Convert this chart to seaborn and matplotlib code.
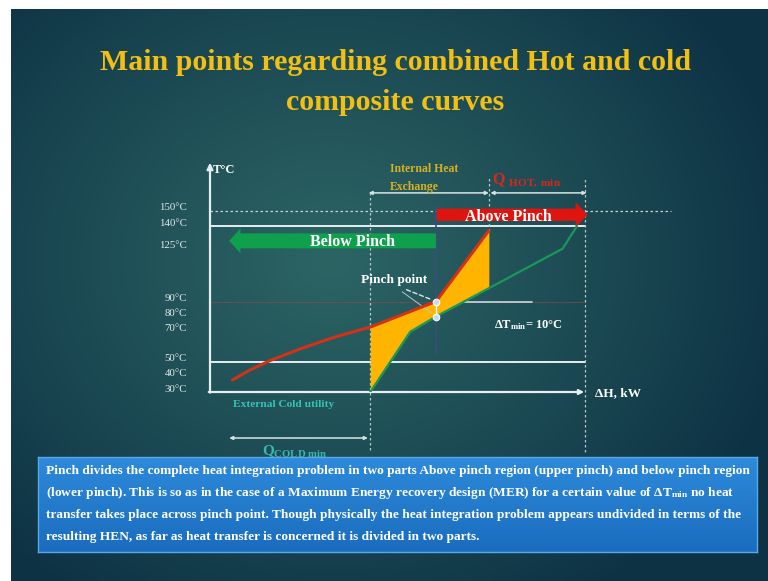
import numpy as np
import matplotlib
matplotlib.use("Agg")
import matplotlib.pyplot as plt
import seaborn as sns
from matplotlib.patches import FancyArrow
from matplotlib.transforms import ScaledTranslation

# Composite curves: heat load (kW) against temperature (°C)
hot_H = [14, 25, 37, 56, 78, 100, 141, 174]
hot_T = [38, 44.6, 50.6, 58.5, 66.5, 73, 90, 137]
cold_H = [100, 125, 141, 220, 229]
cold_T = [30, 70, 80, 125, 140]

temp_ticks = [150, 140, 125, 90, 80, 70, 50, 40, 30]
temp_labels = [f"{t}°C" for t in temp_ticks]

pinch_H = 141
pinch_hot_T = 90
pinch_cold_T = 80
h_axis_end = 234

title_lines = ["Main points regarding combined Hot and cold", "composite curves"]
note_lines = [
    "Pinch divides the complete heat integration problem in two parts Above pinch region (upper pinch) and below pinch region",
    r"(lower pinch). This is so as in the case of a Maximum Energy recovery design (MER) for a certain value of ΔT$_{\mathbf{min}}$ no heat",
    "transfer takes place across pinch point. Though physically the heat integration problem appears undivided in terms of the",
    "resulting HEN, as far as heat transfer is concerned it is divided in two parts.",
]

sns.set_style("white")
plt.rcParams["font.family"] = ["Liberation Serif", "DejaVu Serif"]
plt.rcParams["mathtext.fontset"] = "custom"
plt.rcParams["mathtext.rm"] = "Liberation Serif"
plt.rcParams["mathtext.it"] = "Liberation Serif:italic"
plt.rcParams["mathtext.bf"] = "Liberation Serif:bold"

W, H = 768, 581
fig = plt.figure(figsize=(W / 100, H / 100), dpi=100, facecolor="white")


def fx(px):
    return px / W


def fy(py):
    return 1 - py / H


# slide background: radial teal gradient
bg = fig.add_axes([fx(11), 0, fx(768) - fx(11), fy(9)], zorder=0)
gh, gw = 572, 757
yy, xx = np.mgrid[0:gh, 0:gw]
d = np.sqrt(((xx - 320) / 470.0) ** 2 + ((yy - 250) / 400.0) ** 2)
t = np.clip(d, 0, 1)[..., None] ** 1.1
c0 = np.array([44, 100, 100]) / 255
c1 = np.array([13, 50, 68]) / 255
bg.imshow(c0 * (1 - t) + c1 * t, aspect="auto", extent=[0, 1, 0, 1])
bg.set_axis_off()

# title
gold = "#f2bf12"
fig.text(fx(395), fy(62), title_lines[0], ha="center", va="center",
         fontsize=21.5, fontweight="bold", color=gold)
fig.text(fx(395), fy(103), title_lines[1], ha="center", va="center",
         fontsize=21.5, fontweight="bold", color=gold)

# chart axes
ax = fig.add_axes([fx(210), fy(392), fx(585) - fx(210), fy(211) - fy(392)], zorder=2)
ax.set_xlim(0, h_axis_end)
ax.set_ylim(30, 150)
ax.patch.set_alpha(0)
for s in ax.spines.values():
    s.set_visible(False)
ax.set_xticks([])
ax.set_yticks([])

white = "#e8eef0"
# axes with arrows
ax.annotate("", xy=(0, 182), xytext=(0, 29.6), annotation_clip=False,
            arrowprops=dict(arrowstyle="-|>", color=white, lw=1.6, mutation_scale=9,
                            shrinkA=0, shrinkB=0))
ax.annotate("", xy=(h_axis_end - 0.5, 30), xytext=(-0.8, 30), annotation_clip=False,
            arrowprops=dict(arrowstyle="-|>", color=white, lw=1.6, mutation_scale=7,
                            shrinkA=0, shrinkB=0))

# reference temperature lines
ax.plot([0, 287.5], [150, 150], ls=(0, (2, 2)), color="#c8d4d4", lw=0.9, clip_on=False, zorder=1)
ax.plot([0, h_axis_end], [140, 140], color=white, lw=1.4, clip_on=False, zorder=1)
ax.plot([0, h_axis_end], [50, 50], color=white, lw=1.4, clip_on=False, zorder=1)
ax.plot([0, h_axis_end], [pinch_hot_T, pinch_hot_T], color="#8a4a48", lw=0.8, alpha=0.6,
        clip_on=False, zorder=1)
ax.plot([pinch_H, 201], [pinch_hot_T, pinch_hot_T], color="#d0d8d8", lw=1.2, zorder=1)

# vertical guides
ax.plot([cold_H[0], cold_H[0]], [-8.5, 162], ls=(0, (2, 2)), color="#b8c8c8", lw=0.9,
        clip_on=False, zorder=1)
ax.plot([h_axis_end, h_axis_end], [-10, 172], ls=(0, (2, 2)), color="#b8c8c8", lw=0.9,
        clip_on=False, zorder=1)
ax.plot([hot_H[-1], hot_H[-1]], [137, 172], ls=(0, (2, 2)), color="#b8c8c8", lw=0.9,
        clip_on=False, zorder=1)
ax.plot([pinch_H, pinch_H], [55, 153], color="#3c4c7c", lw=1.2, clip_on=False, zorder=1)

# heat recovery area between the composites
grid = np.linspace(cold_H[0], hot_H[-1], 300)
ax.fill_between(grid, np.interp(grid, hot_H, hot_T), np.interp(grid, cold_H, cold_T),
                color="#ffb400", lw=0, zorder=2)

sns.lineplot(x=hot_H, y=hot_T, sort=False, color="#d23216", lw=2.2, ax=ax, zorder=4)
sns.lineplot(x=cold_H, y=cold_T, sort=False, color="#18985a", lw=1.6, ax=ax, zorder=4)

# pinch markers
ax.plot([pinch_H, pinch_H], [pinch_cold_T, pinch_hot_T], color="white", lw=1, zorder=5)
ax.scatter([pinch_H, pinch_H], [pinch_hot_T, pinch_cold_T], s=22, color="#c8dcf0",
           edgecolor="white", lw=0.8, zorder=6)
ax.annotate("", xy=(pinch_H - 1, pinch_hot_T + 0.5), xytext=(121, 98.5),
            arrowprops=dict(arrowstyle="-", ls=(0, (3, 2)), color="#d8e4ec", lw=1))
ax.annotate("", xy=(pinch_H - 1.5, pinch_cold_T + 1.5), xytext=(118.5, 97.5),
            arrowprops=dict(arrowstyle="-", color="#b8c4cc", lw=0.7))

# region arrows
ax.add_patch(FancyArrow(pinch_H + 0.5, 147.5, 235.6 - pinch_H - 0.5, 0, width=8.2,
                        head_width=16.6, head_length=7.5, length_includes_head=True,
                        color="#de1410", lw=0, clip_on=False, zorder=3))
ax.add_patch(FancyArrow(pinch_H, 130.2, 12 - pinch_H, 0, width=9.9,
                        head_width=16.4, head_length=7, length_includes_head=True,
                        color="#0fa04e", lw=0, clip_on=False, zorder=3))
ax.text(186, 146.2, "Above Pinch", ha="center", va="center", fontsize=11.5,
        fontweight="bold", color="white", zorder=6)
ax.text(88.75, 129.5, "Below Pinch", ha="center", va="center", fontsize=11.5,
        fontweight="bold", color="white", zorder=6)

# heat-load spans above and below the plot
span = dict(arrowstyle="<|-|>", color="#d8e4e4", lw=1.1, mutation_scale=5,
            shrinkA=0, shrinkB=0)
ax.annotate("", xy=(cold_H[0] - 1, 162), xytext=(hot_H[-1], 162), arrowprops=span,
            annotation_clip=False)
ax.annotate("", xy=(hot_H[-1] + 1, 162), xytext=(h_axis_end + 1, 162), arrowprops=span,
            annotation_clip=False)
ax.annotate("", xy=(12, -0.5), xytext=(cold_H[0] - 1.5, -0.5), arrowprops=span,
            annotation_clip=False)

ax.text(112.5, 177.9, "Internal Heat", ha="left", va="center", fontsize=8.5,
        fontweight="bold", color="#d6b022")
ax.text(112.5, 165.7, "Exchange", ha="left", va="center", fontsize=8.5,
        fontweight="bold", color="#d6b022")
ax.text(176, 170.5, r"Q $_{\mathbf{HOT,\ min}}$", ha="left", va="center", fontsize=11.5,
        fontweight="bold", color="#e02418")
ax.text(53, -9.5, r"Q$_{\mathbf{COLD\ min}}$", ha="center", va="center", fontsize=11,
        fontweight="bold", color="#38b8b0")
ax.text(46, 21.4, "External Cold utility", ha="center", va="center", fontsize=8.2,
        fontweight="bold", color="#34c4b8")
ax.text(115, 104.5, "Pinch point", ha="center", va="center", fontsize=9.6,
        fontweight="bold", color="white", zorder=6)
ax.text(177.5, 74.2, r"ΔT$_{\mathbf{min}}$= 10°C", ha="left", va="center", fontsize=9,
        fontweight="bold", color="white")
ax.text(240.5, 29.5, "ΔH, kW", ha="left", va="center", fontsize=9.5,
        fontweight="bold", color="white")
ax.text(8.5, 177.5, "T°C", ha="center", va="center", fontsize=9,
        fontweight="bold", color="white")

# temperature labels on the vertical axis
lift = ax.transData + ScaledTranslation(0, 3 / 100, fig.dpi_scale_trans)
for tv, lab in zip(temp_ticks, temp_labels):
    ax.text(-14.5, tv, lab, ha="right", va="center", fontsize=7.8, color="#e4eaea",
            transform=lift, clip_on=False)

# explanatory note box
box = fig.add_axes([fx(38), fy(552), fx(757) - fx(38), fy(457) - fy(552)], zorder=3)
gy = np.linspace(0, 1, 100)[:, None, None]
top_c = np.array([46, 138, 218]) / 255
bot_c = np.array([26, 108, 190]) / 255
box.imshow(np.repeat(top_c * (1 - gy) + bot_c * gy, 2, axis=1), aspect="auto",
           extent=[0, 1, 0, 1])
box.set_xticks([])
box.set_yticks([])
for s in box.spines.values():
    s.set_color("#5aa8ec")
    s.set_linewidth(1)

note_y = [471, 493, 515, 537]
note_texts = []
for yv, line in zip(note_y, note_lines):
    note_texts.append(fig.text(fx(46), fy(yv), line, ha="left", va="center", fontsize=10,
                               fontweight="bold", color="white", zorder=5))

# scale the note font so the first line spans the box
fig.canvas.draw()
r = fig.canvas.get_renderer()
w0 = note_texts[0].get_window_extent(r).width
size = 10 * 704 / w0
for tx in note_texts:
    tx.set_fontsize(size)

fig.savefig("out.png", dpi=100)
